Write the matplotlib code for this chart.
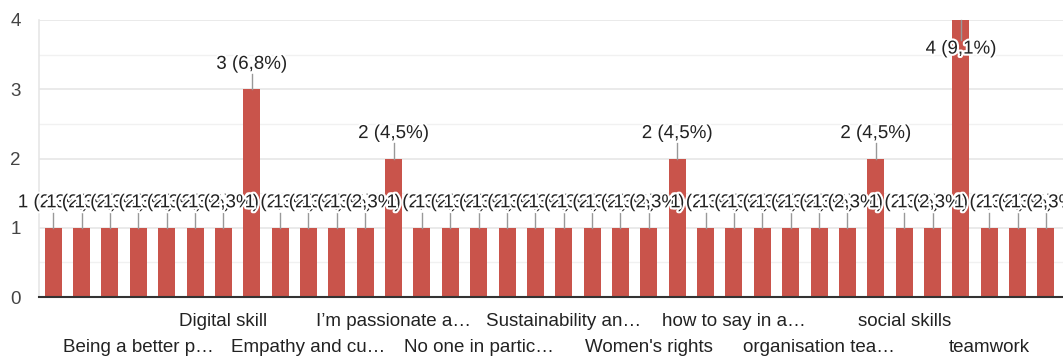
import matplotlib
matplotlib.use('Agg')
import matplotlib.pyplot as plt
import matplotlib.patheffects as pe
from matplotlib.ticker import MultipleLocator
import numpy as np

plt.rcParams['font.family'] = ['Liberation Sans', 'DejaVu Sans']

# counts per answer (36 answers, alphabetical order as in the form summary)
counts = [1, 1, 1, 1, 1, 1, 1, 3, 1, 1, 1, 1, 2, 1, 1, 1, 1, 1,
          1, 1, 1, 1, 2, 1, 1, 1, 1, 1, 1, 2, 1, 1, 4, 1, 1, 1]
total = 44

# only every third category gets a visible label, in two staggered rows
row1_idx = [6, 12, 18, 24, 30]
row1_labels = ["Digital skill", "I\u2019m passionate a\u2026", "Sustainability an\u2026",
               "how to say in a\u2026", "social skills"]
row2_idx = [3, 9, 15, 21, 27, 33]
row2_labels = ["Being a better p\u2026", "Empathy and cu\u2026", "No one in partic\u2026",
               "Women's rights", "organisation tea\u2026", "teamwork"]

BAR = '#c9544b'
TXT = '#222222'
FS = 13.5
W, H = 1063, 356

fig = plt.figure(figsize=(W / 100, H / 100), dpi=100)
ax = fig.add_axes([39 / W, (H - 297) / H, (W - 39) / W, 277 / H])

x = np.arange(len(counts))
ax.bar(x, counts, width=0.6, color=BAR, zorder=2)

ax.set_xlim(-0.5, 35.6)
ax.set_ylim(0, 4)
ax.set_yticks([0, 1, 2, 3, 4])
ax.yaxis.set_minor_locator(MultipleLocator(0.5))
ax.grid(axis='y', which='major', color='#e6e6e6', lw=1.2, zorder=0)
ax.grid(axis='y', which='minor', color='#f1f1f1', lw=1.0, zorder=0)
ax.tick_params(axis='y', which='both', length=0, labelsize=FS,
               labelcolor='#444444', pad=13)

ax.set_xticks(row1_idx, row1_labels)
ax.set_xticks(row2_idx, row2_labels, minor=True)
ax.tick_params(axis='x', which='both', length=0, labelsize=FS, labelcolor=TXT)
ax.tick_params(axis='x', which='major', pad=11.5)
ax.tick_params(axis='x', which='minor', pad=30)

for s in ['top', 'right']:
    ax.spines[s].set_visible(False)
ax.spines['left'].set_color('#e6e6e6')
ax.spines['left'].set_linewidth(1.2)
ax.spines['bottom'].set_color('#333333')
ax.spines['bottom'].set_linewidth(1.5)
ax.spines['bottom'].set_zorder(3)

halo = [pe.withStroke(linewidth=3, foreground='white')]
for i, v in enumerate(counts):
    pct = f"{v / total * 100:.1f}".replace('.', ',')
    label = f"{v} ({pct}%)"
    if v >= 4:
        y0, y1, yt = v, v - 0.29, v - 0.42
    else:
        y0, y1, yt = v, v + 0.22, v + 0.36
    ax.plot([i, i], [y0, y1], color='#999999', lw=1, zorder=3, clip_on=False)
    ax.text(i, yt, label, ha='center', va='center', fontsize=FS, color=TXT,
            path_effects=halo, zorder=4 + i * 0.01, clip_on=False)

fig.savefig('out.png', dpi=100, facecolor='white')
